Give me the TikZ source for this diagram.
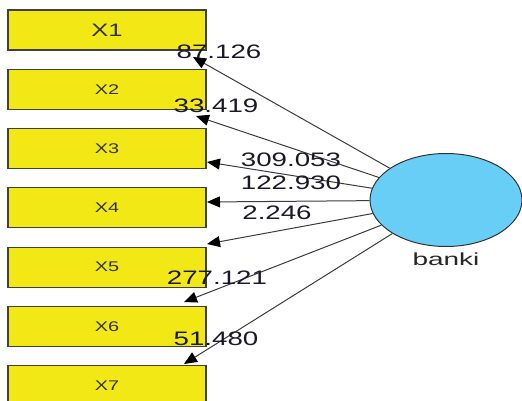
\documentclass[tikz,border=0pt]{standalone}
\usepackage{fontspec}
\usetikzlibrary{arrows.meta,shapes.geometric,positioning}

\newfontfamily\boxfont[FakeStretch=1.42]{Liberation Sans}
\newfontfamily\ovalfont[FakeStretch=1.6]{Liberation Sans}

\definecolor{boxyellow}{RGB}{241,232,22}
\definecolor{ovalblue}{RGB}{104,206,245}
\definecolor{edgegray}{RGB}{60,60,60}
\definecolor{labelink}{RGB}{25,25,40}

\begin{document}
\begin{tikzpicture}[x=1pt,y=-1pt,
                    >={Triangle[length=13pt,width=11pt,color=black]},
                    var node/.style={rectangle,draw=black!75,line width=1.1pt,fill=boxyellow,
                      minimum width=198pt,minimum height=40pt,inner sep=0pt,
                      font=\boxfont\fontsize{14}{14}\selectfont,text=black!80},
                    latent node/.style={ellipse,draw=black!80,line width=1pt,fill=ovalblue,
                      minimum width=152pt,minimum height=93pt,inner sep=0pt},
                    load/.style={font=\boxfont\fontsize{19.5}{20}\selectfont,text=labelink,inner sep=0pt}]

  \useasboundingbox (0,0) rectangle (522,401);
  \clip (0,0) rectangle (522,401);

  % observed variables
  \node[var node,font=\boxfont\fontsize{18}{18}\selectfont] (x1) at (107,30) {X1};
  \node[var node] (x2) at (107,89.3) {X2};
  \node[var node] (x3) at (107,148.6) {X3};
  \node[var node] (x4) at (107,207.9) {X4};
  \node[var node] (x5) at (107,267.2) {X5};
  \node[var node] (x6) at (107,326.5) {X6};
  \node[var node] (x7) at (107,385.8) {X7};

  % factor
  \node[latent node] (banki) at (446,200) {};
  \node[font=\ovalfont\fontsize{17.5}{18}\selectfont,text=black!85,inner sep=0pt]
    (bankilabel) [below=6pt of banki] {banki};

  % arrow heads
  \coordinate (h1) at (193,57);
  \coordinate (h2) at (196,116);
  \coordinate (h3) at (207,162);
  \coordinate (h4) at (207,202);
  \coordinate (h5) at (207,244);
  \coordinate (h6) at (184,302);
  \coordinate (h7) at (184,364);

  \path[->,draw=edgegray,line width=1pt]
    (banki) edge (h1)
            edge (h2)
            edge (h3)
            edge (h4)
            edge (h5)
            edge (h6)
            edge (h7);

  % loadings
  \node[load] (l1) at (219,52) {87.126};
  \node[load] (l2) at (216,106) {33.419};
  \node[load] (l3) at (291,160) {309.053};
  \node[load] (l4) at (291,183) {122.930};
  \node[load] (l5) at (277,213) {2.246};
  \node[load] (l6) at (217,278) {277.121};
  \node[load] (l7) at (216,339) {51.480};
\end{tikzpicture}
\end{document}
